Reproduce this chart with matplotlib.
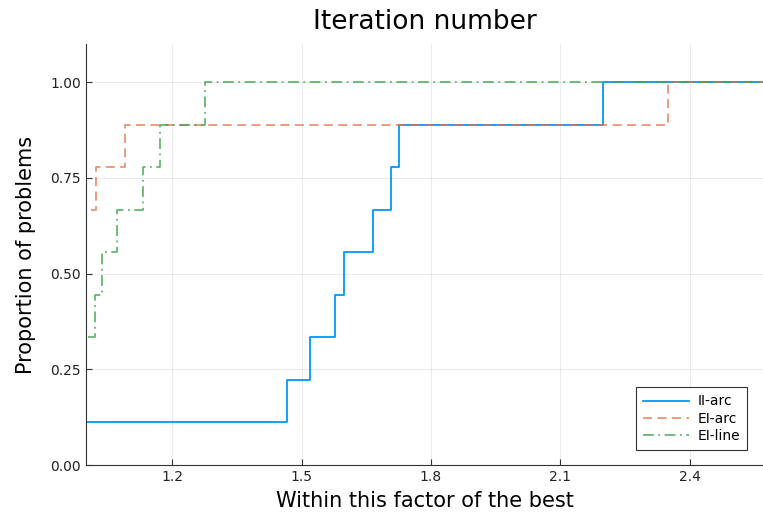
import numpy as np
import matplotlib
matplotlib.use("Agg")
import matplotlib.pyplot as plt

# performance profile data (ratio where each step happens, fraction of problems solved)
n_prob = 9
ii_arc_x = [1.0, 1.0, 1.466, 1.519, 1.577, 1.599, 1.666, 1.707, 1.727, 2.199, 2.57]
ii_arc_y = [0, 1, 2, 3, 4, 5, 6, 7, 8, 9, 9]

ei_arc_x = [1.0, 1.0, 1.023, 1.091, 2.349, 2.57]
ei_arc_y = [0, 6, 7, 8, 9, 9]

ei_line_x = [1.0, 1.0, 1.021, 1.037, 1.072, 1.132, 1.171, 1.275, 2.57]
ei_line_y = [0, 3, 4, 5, 6, 7, 8, 9, 9]

labels = ["II-arc", "EI-arc", "EI-line"]
colors = ["#009AFA", "#E36F47", "#3EA44E"]
styles = ["-", (0, (5, 3)), (0, (6, 2.5, 1, 2.5))]
alphas = [1.0, 0.75, 0.8]

fig = plt.figure(figsize=(7.63, 5.18), dpi=100)
ax = fig.add_axes([0.1127, 0.1023, 0.8873, 0.8127])

series = [(ii_arc_x, ii_arc_y), (ei_arc_x, ei_arc_y), (ei_line_x, ei_line_y)]
for (xs, ys), lab, c, ls, a in zip(series, labels, colors, styles, alphas):
    ax.step(xs, np.array(ys) / n_prob, where="post", color=c, ls=ls,
            lw=1.3, label=lab, alpha=a)

ax.set_xlim(1.0, 2.57)
ax.set_ylim(0, 1.1)
ax.set_xticks([1.2, 1.5, 1.8, 2.1, 2.4])
ax.set_yticks([0, 0.25, 0.5, 0.75, 1.0])
ax.set_yticklabels(["0.00", "0.25", "0.50", "0.75", "1.00"])
ax.grid(True, color="#000000", alpha=0.08, lw=0.8)
for s in ["top", "right"]:
    ax.spines[s].set_visible(False)
for s in ["left", "bottom"]:
    ax.spines[s].set_color("#333333")
ax.tick_params(direction="in", length=4, labelsize=10, color="#333333",
               labelcolor="#222222")

ax.set_title("Iteration number", fontsize=19, pad=11)
ax.set_xlabel("Within this factor of the best", fontsize=15, labelpad=5)
ax.set_ylabel("Proportion of problems", fontsize=15, labelpad=10)

leg = ax.legend(loc="lower right", fontsize=10, fancybox=False,
                edgecolor="#333333", framealpha=1, borderpad=0.5,
                handlelength=3.3, labelspacing=0.25, borderaxespad=0,
                handletextpad=0.6, bbox_to_anchor=(0.976, 0.035))
leg.get_frame().set_linewidth(0.8)
leg._legend_box.sep = 4

fig.savefig("out.png", dpi=100)
